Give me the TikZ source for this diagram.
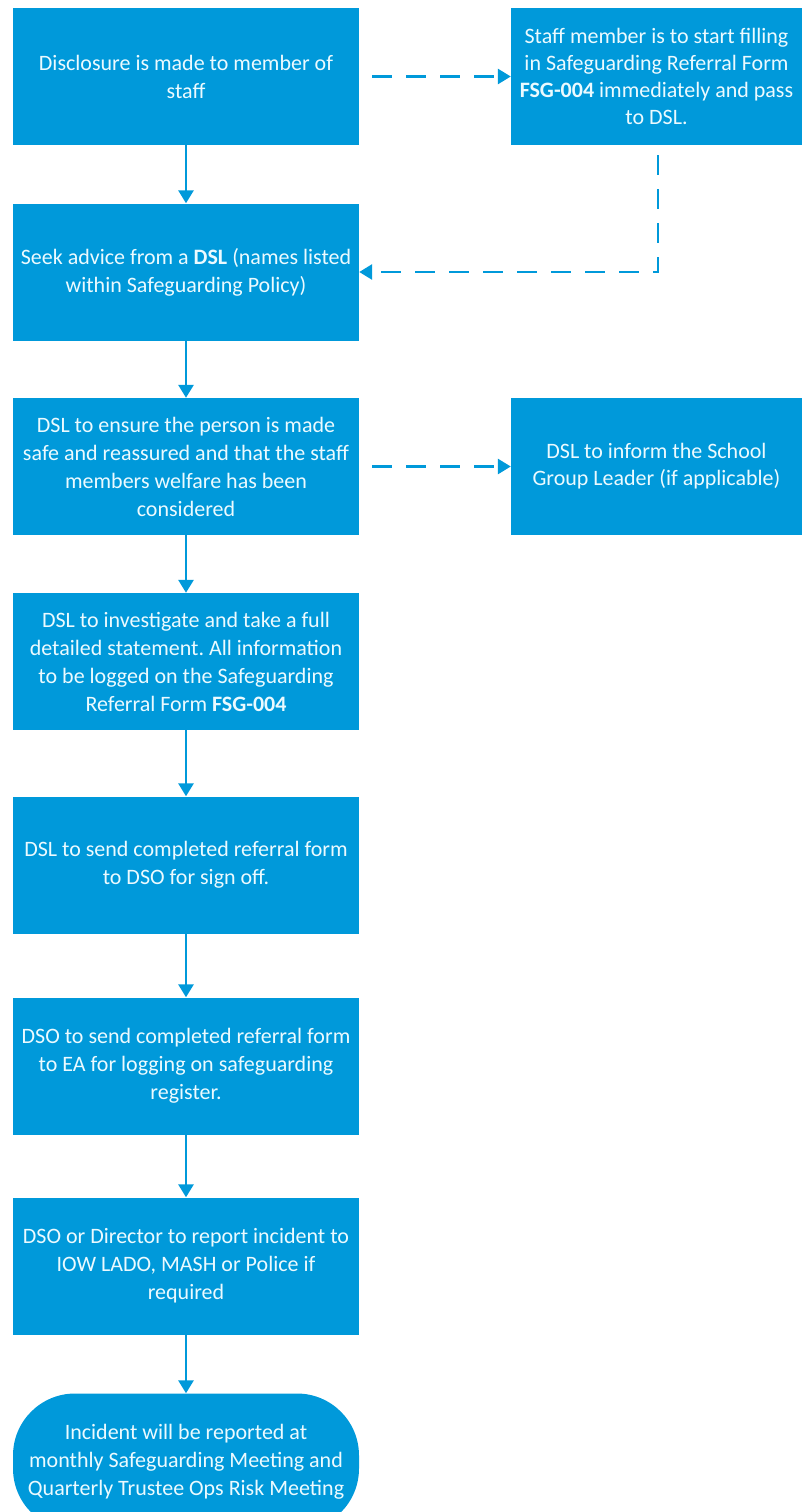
\documentclass[tikz,border=0pt]{standalone}
\usepackage{fontspec}
\setmainfont{Carlito}
\usepackage{xcolor}
\usetikzlibrary{
    arrows.meta,
    calc,
    positioning
}
\definecolor{flowblue}{RGB}{0,153,218}
\definecolor{flowtext}{RGB}{235,250,255}
\frenchspacing

\tikzset{
    stepbox/.style={draw=none, fill=flowblue, text=flowtext, align=center,
        minimum width=346pt, minimum height=137pt, inner sep=0pt,
        font=\fontsize{22}{28}\selectfont},
    sidebox/.style={stepbox, minimum width=291pt,
        font=\fontsize{22}{27}\selectfont},
    endbox/.style={stepbox, rounded corners=62pt},
    flow/.style={draw=flowblue, line width=2.8pt,
        -{Triangle[width=15pt,length=13pt]}},
    sideflow/.style={flow, dash pattern=on 20pt off 14pt}
}

\begin{document}
\begin{tikzpicture}[x=1pt, y=-1pt]
                        \useasboundingbox (0, 0) rectangle (803, 1512);

                        % main column
                        \node[stepbox] (disclose) at (186, 76.5) {Disclosure is made to member of\\staff};
                        \node[stepbox] (seek) at (186, 272) {Seek advice from a \textbf{DSL} (names listed\\within Safeguarding Policy)};
                        \node[stepbox] (ensure) at (186, 466.5) {DSL to ensure the person is made\\safe and reassured and that the staff\\members welfare has been\\considered};
                        \node[stepbox] (investigate) at (186, 661.5) {DSL to investigate and take a full\\detailed statement. All information\\to be logged on the Safeguarding\\Referral Form \textbf{FSG-004}};
                        \node[stepbox] (signoff) at (186, 865) {DSL to send completed referral form\\to DSO for sign off.};
                        \node[stepbox] (register) at (186, 1066) {DSO to send completed referral form\\to EA for logging on safeguarding\\register.};
                        \node[stepbox] (report) at (186, 1266) {DSO or Director to report incident to\\IOW LADO, MASH or Police if\\required};
                        \node[endbox] (meeting) at (186, 1462) {Incident will be reported at\\monthly Safeguarding Meeting and\\Quarterly Trustee Ops Risk Meeting};

                        % side column
                        \node[sidebox] (form) at (656.5, 76.5) {Staff member is to start filling\\in Safeguarding Referral Form\\\textbf{FSG-004} immediately and pass\\to DSL.};
                        \node[sidebox] (inform) at (656.5, 466.5) {DSL to inform the School\\Group Leader (if applicable)};

                        \foreach \a/\b in {disclose/seek, seek/ensure, ensure/investigate,
                            investigate/signoff, signoff/register, register/report, report/meeting} {
                            \draw[flow] (\a.south) -- (\b.north);
                        }

                        \draw[sideflow, shorten <=13pt] (disclose.east) -- (form.west);
                        \draw[sideflow, shorten <=13pt] (ensure.east) -- (inform.west);
                        \draw[sideflow, shorten <=10pt] ($(form.south)+(1.5, 0)$) |- (seek.east);
                    \end{tikzpicture}
\end{document}
